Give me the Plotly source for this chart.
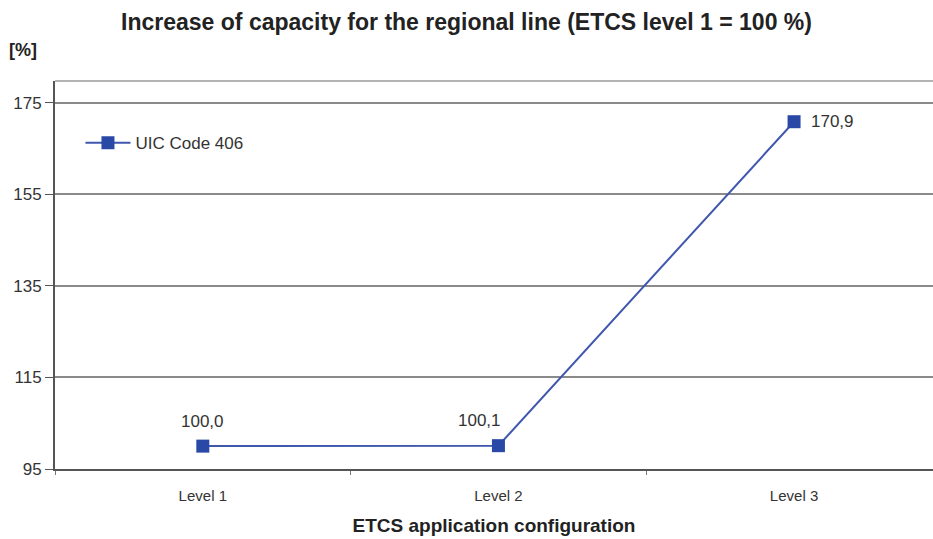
import plotly.graph_objects as go

# Capacity relative to ETCS level 1 (= 100 %)
configurations = ["Level 1", "Level 2", "Level 3"]
capacity = [100.0, 100.1, 170.9]
value_labels = ["100,0", "100,1", "170,9"]
series_name = "UIC Code 406"
y_ticks = [95, 115, 135, 155, 175]

line_color = "#3f57ad"
marker_color = "#2a48a6"
text_color = "#333333"
font_family = "Liberation Sans, Arial, sans-serif"

fig = go.Figure()
fig.add_trace(go.Scatter(
    x=configurations,
    y=capacity,
    mode="lines+markers",
    name=series_name,
    line=dict(color=line_color, width=2),
    marker=dict(symbol="square", size=13, color=marker_color),
))

# Value labels placed next to each point
label_offsets = [(0, 25, "center"), (-19, 25, "center"), (15, 0, "left")]
for cat, val, txt, (dx, dy, anchor) in zip(configurations, capacity, value_labels, label_offsets):
    fig.add_annotation(
        x=cat, y=val, text=txt, showarrow=False,
        xanchor=anchor, yanchor="middle", xshift=dx, yshift=dy,
        font=dict(family=font_family, size=17, color=text_color),
    )

# Unit label above the y axis
fig.add_annotation(
    xref="paper", yref="paper", x=-0.055, y=1.081,
    text="<b>[%]</b>", showarrow=False, xanchor="left", yanchor="middle",
    font=dict(family=font_family, size=18, color="#222222"),
)

# Top frame of the plot area
fig.add_shape(type="line", xref="paper", yref="paper", x0=0, x1=1, y0=1, y1=1,
              line=dict(color="#9a9a9a", width=1.5))

fig.update_layout(
    width=933, height=539,
    margin=dict(l=55, r=0, t=81, b=70),
    paper_bgcolor="white", plot_bgcolor="white",
    title=dict(
        text="<b>Increase of capacity for the regional line (ETCS level 1 = 100 %)</b>",
        x=0.5, xanchor="center", y=0.959, yanchor="middle",
        font=dict(family=font_family, size=23, color="#222222"),
    ),
    font=dict(family=font_family, color=text_color),
    showlegend=True,
    legend=dict(
        x=0.029, y=0.84, xanchor="left", yanchor="middle",
        itemwidth=45,
        bgcolor="rgba(0,0,0,0)", font=dict(size=17, color=text_color),
    ),
    xaxis=dict(
        type="category", range=[-0.5, 2.47],
        showgrid=False, showline=True, linecolor="#555555", linewidth=2,
        ticks="outside", tickson="boundaries", ticklen=4, tickcolor="#777777",
        ticklabelstandoff=12,
        tickfont=dict(size=15, color=text_color),
        title=dict(text="<b>ETCS application configuration</b>", standoff=16,
                   font=dict(size=19, color="#222222")),
    ),
    yaxis=dict(
        range=[95, 179.8], tickvals=y_ticks,
        showgrid=True, gridcolor="#8a8a8a", gridwidth=1.5,
        showline=True, linecolor="#555555", linewidth=2,
        ticks="outside", ticklen=8, tickcolor="#555555",
        tickfont=dict(size=17, color=text_color),
        zeroline=False,
    ),
)

fig.write_html("out.html")
